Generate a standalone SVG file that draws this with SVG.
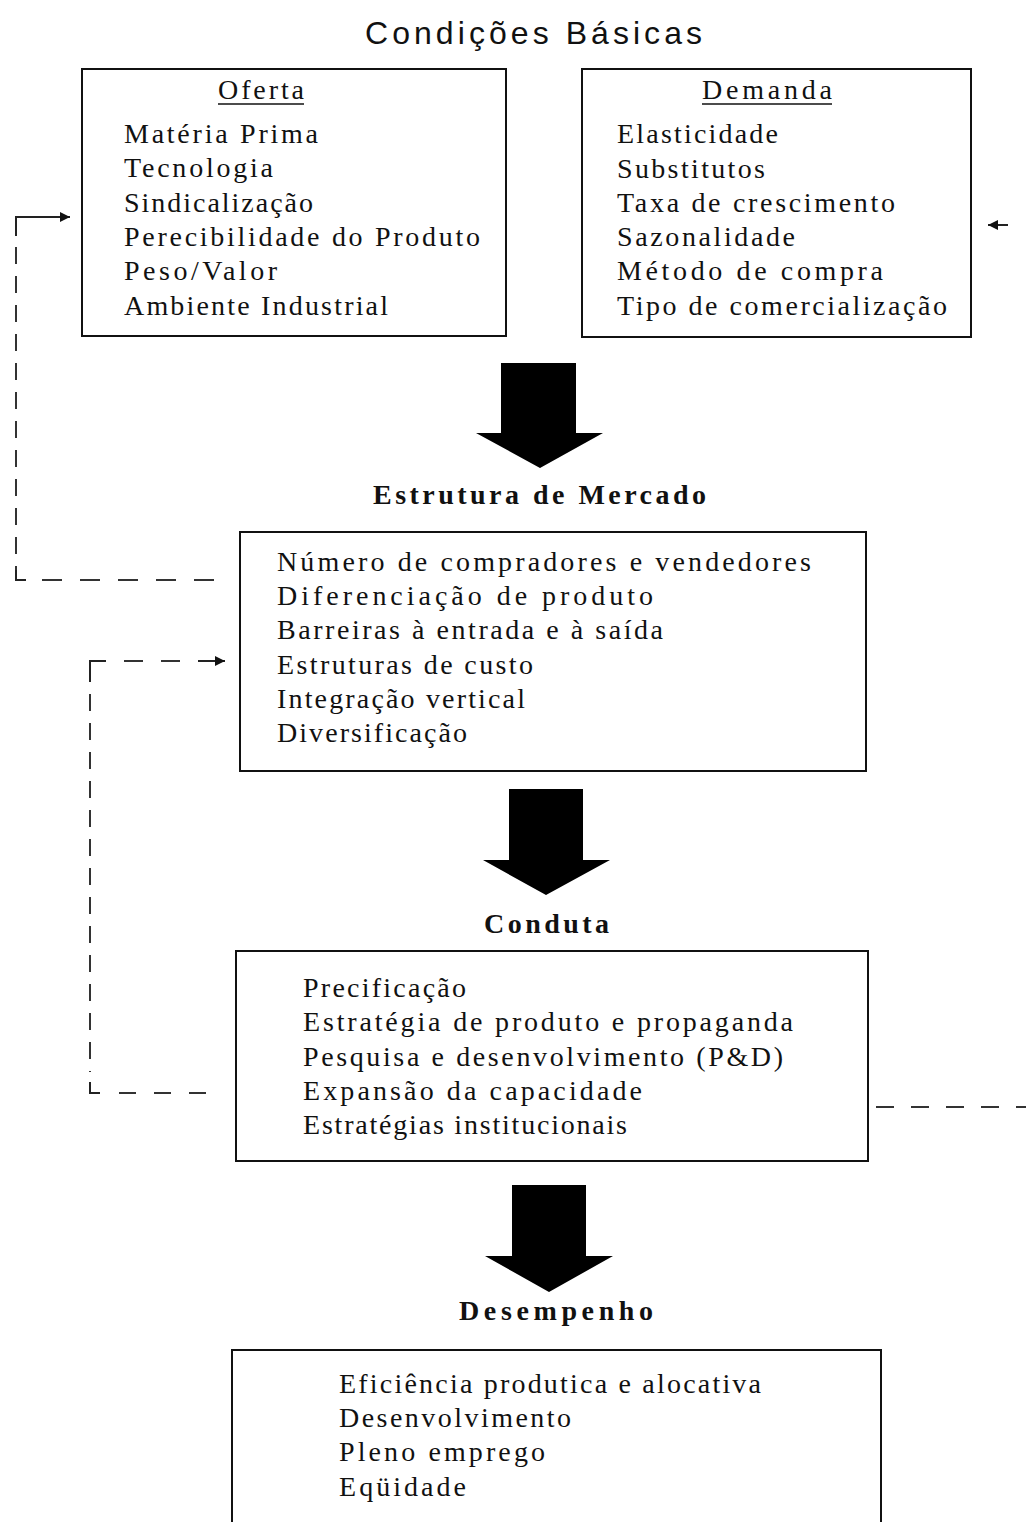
<svg xmlns="http://www.w3.org/2000/svg" width="1026" height="1522" viewBox="0 0 1026 1522">
  <style>
    .box { fill: #fff; stroke: #111; stroke-width: 2; }
    .item { font-family: "Liberation Serif", "Times New Roman", serif; font-size: 28px; fill: #111; }
    .head { font-family: "Liberation Serif", "Times New Roman", serif; font-size: 28px; font-weight: bold; fill: #111; }
    .title { font-family: "Liberation Sans", Arial, sans-serif; font-size: 32px; fill: #111; }
    .ul { stroke: #111; stroke-width: 1.5; }
    .flow { fill: #000; }
    .solid { fill: none; stroke: #222; stroke-width: 2; }
    .dash { fill: none; stroke: #333; stroke-width: 2; }
  </style>
  <defs>
    <marker id="tip" viewBox="0 0 10 10" refX="10" refY="5" markerWidth="10" markerHeight="11" markerUnits="userSpaceOnUse" orient="auto">
      <path d="M0 0 L10 5 L0 10 Z" fill="#111"/>
    </marker>
  </defs>

  <rect width="1026" height="1522" fill="#fff"/>

  <text class="title" x="365" y="44" textLength="337">Condições Básicas</text>

  <g id="oferta">
    <rect class="box" x="82" y="69" width="424" height="267"/>
    <text class="item" x="218" y="99" textLength="86">Oferta</text>
    <line class="ul" x1="218" y1="104" x2="304" y2="104"/>
    <text class="item" x="124" y="143" textLength="194">Matéria Prima</text>
    <text class="item" x="124" y="177" textLength="149">Tecnologia</text>
    <text class="item" x="124" y="212" textLength="189">Sindicalização</text>
    <text class="item" x="124" y="246" textLength="356">Perecibilidade do Produto</text>
    <text class="item" x="124" y="280" textLength="153">Peso/Valor</text>
    <text class="item" x="124" y="315" textLength="264">Ambiente Industrial</text>
  </g>

  <g id="demanda">
    <rect class="box" x="582" y="69" width="389" height="268"/>
    <text class="item" x="702" y="99" textLength="130">Demanda</text>
    <line class="ul" x1="702" y1="104" x2="832" y2="104"/>
    <text class="item" x="617" y="143" textLength="161">Elasticidade</text>
    <text class="item" x="617" y="178" textLength="148">Substitutos</text>
    <text class="item" x="617" y="212" textLength="278">Taxa de crescimento</text>
    <text class="item" x="617" y="246" textLength="178">Sazonalidade</text>
    <text class="item" x="617" y="280" textLength="266">Método de compra</text>
    <text class="item" x="617" y="315" textLength="330">Tipo de comercialização</text>
  </g>

  <g id="estrutura">
    <text class="head" x="373" y="504" textLength="333">Estrutura de Mercado</text>
    <rect class="box" x="240" y="532" width="626" height="239"/>
    <text class="item" x="277" y="571" textLength="534">Número de compradores e vendedores</text>
    <text class="item" x="277" y="605" textLength="376">Diferenciação de produto</text>
    <text class="item" x="277" y="639" textLength="386">Barreiras à entrada e à saída</text>
    <text class="item" x="277" y="674" textLength="256">Estruturas de custo</text>
    <text class="item" x="277" y="708" textLength="248">Integração vertical</text>
    <text class="item" x="277" y="742" textLength="190">Diversificação</text>
  </g>

  <g id="conduta">
    <text class="head" x="484" y="933" textLength="125">Conduta</text>
    <rect class="box" x="236" y="951" width="632" height="210"/>
    <text class="item" x="303" y="997" textLength="163">Precificação</text>
    <text class="item" x="303" y="1031" textLength="490">Estratégia de produto e propaganda</text>
    <text class="item" x="303" y="1066" textLength="480">Pesquisa e desenvolvimento (P&amp;D)</text>
    <text class="item" x="303" y="1100" textLength="339">Expansão da capacidade</text>
    <text class="item" x="303" y="1134" textLength="324">Estratégias institucionais</text>
  </g>

  <g id="desempenho">
    <text class="head" x="459" y="1320" textLength="194">Desempenho</text>
    <rect class="box" x="232" y="1350" width="649" height="200"/>
    <text class="item" x="339" y="1393" textLength="422">Eficiência produtica e alocativa</text>
    <text class="item" x="339" y="1427" textLength="232">Desenvolvimento</text>
    <text class="item" x="339" y="1461" textLength="206">Pleno emprego</text>
    <text class="item" x="339" y="1496" textLength="127">Eqüidade</text>
  </g>

  <g id="connectors">
    <!-- block arrows between stages -->
    <path class="flow" d="M501 363 H576 V433 H603 L540 468 L476 433 H501 Z"/>
    <path class="flow" d="M509 789 H583 V860 H610 L546 895 L483 860 H509 Z"/>
    <path class="flow" d="M512 1185 H586 V1256 H613 L549 1292 L485 1256 H512 Z"/>

    <!-- feedback from market structure to basic conditions -->
    <path class="solid" d="M16 236 V217 H70" marker-end="url(#tip)"/>
    <path class="dash" d="M16 247 V572" stroke-dasharray="17 12"/>
    <path class="solid" d="M16 570 V580 H26"/>
    <path class="dash" d="M42 580 H215" stroke-dasharray="20 18"/>

    <!-- feedback from conduct to market structure -->
    <path class="solid" d="M106 661 H90 V682"/>
    <path class="dash" d="M124 661 H200" stroke-dasharray="19 18"/>
    <path class="solid" d="M198 661 H225" marker-end="url(#tip)"/>
    <path class="dash" d="M90 694 V1072" stroke-dasharray="17 12"/>
    <path class="solid" d="M90 1082 V1093 H100"/>
    <path class="dash" d="M119 1093 H212" stroke-dasharray="17 18"/>

    <!-- conduct toward the right edge -->
    <path class="dash" d="M876 1107 H1026" stroke-dasharray="18 17"/>

    <!-- arrow into the demand side -->
    <path class="solid" d="M1008 225 H988" marker-end="url(#tip)"/>
  </g>
</svg>
